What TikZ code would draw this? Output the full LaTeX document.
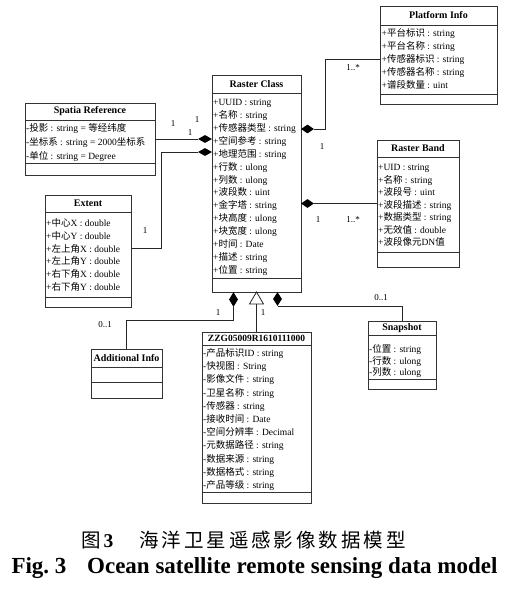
\documentclass[tikz,border=0pt]{standalone}
\usepackage{fontspec}
\setmainfont{Liberation Serif}
\newfontfamily\zhfont{Noto Sans CJK SC}[Scale=1.0]
\newfontfamily\zhcapfont{Noto Sans CJK SC}[LetterSpace=15]
\newcommand{\zh}[1]{{\zhfont #1}}
\usetikzlibrary{shapes.geometric}

\begin{document}
\begin{tikzpicture}[x=1pt, y=-1pt,
    classbox/.style={draw=black!80, line width=0.9pt, inner sep=0pt, fill=white},
    classtitle/.style={font=\fontsize{10}{12}\selectfont\bfseries, inner sep=0pt},
    attrtext/.style={font=\fontsize{9.5}{11}\selectfont, anchor=base west, inner sep=0pt},
    multlabel/.style={font=\fontsize{9}{11}\selectfont, inner sep=0pt},
    sepline/.style={draw=black!80, line width=0.8pt},
    assoc/.style={draw=black!85, line width=0.7pt},
    agg/.style={diamond, fill=black, inner sep=0pt}]
        \useasboundingbox (0,0) rectangle (505,591);
        % --- Platform Info ---
        \node[classbox, minimum width=117, minimum height=98] (platform) at (438.5,55) {};
        \node[classtitle] (platform-title) at (438.5,15.5) {Platform Info};
        \draw[sepline] (380,25) -- (497,25);
        \draw[sepline] (380,94) -- (497,94);
        \foreach \txt [count=\i from 0] in {+\zh{平台标识} : string, +\zh{平台名称} : string,
            +\zh{传感器标识} : string, +\zh{传感器名称} : string, +\zh{谱段数量} : uint}
            \node[attrtext] (platform-\i) at (381.5,36.5+13*\i) {\txt};
        % --- Raster Class ---
        \node[classbox, minimum width=89, minimum height=217] (raster) at (256.5,183.5) {};
        \node[classtitle] (raster-title) at (256.5,84) {Raster Class};
        \draw[sepline] (212,93) -- (301,93);
        \draw[sepline] (212,278) -- (301,278);
        \foreach \txt [count=\i from 0] in {+UUID : string, +\zh{名称} : string, +\zh{传感器类型} : string,
            +\zh{空间参考} : string, +\zh{地理范围} : string, +\zh{行数} : ulong, +\zh{列数} : ulong,
            +\zh{波段数} : uint, +\zh{金字塔} : string, +\zh{块高度} : ulong, +\zh{块宽度} : ulong,
            +\zh{时间} : Date, +\zh{描述} : string, +\zh{位置} : string}
            \node[attrtext] (raster-\i) at (213,105.5+12.92*\i) {\txt};
        % --- Spatia Reference ---
        \node[classbox, minimum width=130, minimum height=72] (spatial) at (90,139) {};
        \node[classtitle] (spatial-title) at (90,111.5) {Spatia Reference};
        \draw[sepline] (25,120) -- (155,120);
        \draw[sepline] (25,163) -- (155,163);
        \foreach \txt [count=\i from 0] in {-\zh{投影} : string = \zh{等经纬度},
            -\zh{坐标系} : string = 2000\zh{坐标系}, -\zh{单位} : string = Degree}
            \node[attrtext] (spatial-\i) at (26,131.5+14*\i) {\txt};
        % --- Extent ---
        \node[classbox, minimum width=86, minimum height=112] (extent) at (88,251) {};
        \node[classtitle] (extent-title) at (88,203.5) {Extent};
        \draw[sepline] (45,212) -- (131,212);
        \draw[sepline] (45,297) -- (131,297);
        \foreach \txt [count=\i from 0] in {+\zh{中心}X : double, +\zh{中心}Y : double,
            +\zh{左上角}X : double, +\zh{左上角}Y : double, +\zh{右下角}X : double, +\zh{右下角}Y : double}
            \node[attrtext] (extent-\i) at (46,226.5+12.8*\i) {\txt};
        % --- Raster Band ---
        \node[classbox, minimum width=82, minimum height=127] (band) at (418,203.5) {};
        \node[classtitle] (band-title) at (418,148.5) {Raster Band};
        \draw[sepline] (377,157) -- (459,157);
        \draw[sepline] (377,252) -- (459,252);
        \foreach \txt [count=\i from 0] in {+UID : string, +\zh{名称} : string, +\zh{波段号} : uint,
            +\zh{波段描述} : string, +\zh{数据类型} : string, +\zh{无效值} : double, +\zh{波段像元}DN\zh{值}}
            \node[attrtext] (band-\i) at (378,170.5+12.5*\i) {\txt};
        % --- ZZG05009R1610111000 ---
        \node[classbox, minimum width=109, minimum height=171] (zzg) at (256.5,417.5) {};
        \node[classtitle, font=\fontsize{9.5}{11}\selectfont\bfseries] (zzg-title) at (256.5,338.5) {ZZG05009R1610111000};
        \draw[sepline] (202,345) -- (311,345);
        \draw[sepline] (202,492) -- (311,492);
        \foreach \txt [count=\i from 0] in {-\zh{产品标识}ID : string, -\zh{快视图} : String,
            -\zh{影像文件} : string, -\zh{卫星名称} : string, -\zh{传感器} : string, -\zh{接收时间} : Date,
            -\zh{空间分辨率} : Decimal, -\zh{元数据路径} : string, -\zh{数据来源} : string,
            -\zh{数据格式} : string, -\zh{产品等级} : string}
            \node[attrtext] (zzg-\i) at (203,356.5+13.2*\i) {\txt};
        % --- Additional Info ---
        \node[classbox, minimum width=71, minimum height=49] (addinfo) at (126.5,373.5) {};
        \node[classtitle] (addinfo-title) at (126.5,358) {Additional Info};
        \draw[sepline] (91,367) -- (162,367);
        \draw[sepline] (91,382) -- (162,382);
        % --- Snapshot ---
        \node[classbox, minimum width=68, minimum height=68] (snapshot) at (402,355) {};
        \node[classtitle] (snapshot-title) at (402,328) {Snapshot};
        \draw[sepline] (368,335) -- (436,335);
        \draw[sepline] (368,379) -- (436,379);
        \foreach \txt [count=\i from 0] in {-\zh{位置} : string, -\zh{行数} : ulong, -\zh{列数} : ulong}
            \node[attrtext] (snapshot-\i) at (369,352.5+11.5*\i) {\txt};
        % --- aggregation diamonds, inheritance ---
        \node[agg, minimum width=14, minimum height=8] (agg-sp) at (205,139) {};
        \node[agg, minimum width=14, minimum height=8] (agg-ex) at (205,152) {};
        \node[agg, minimum width=13, minimum height=9] (agg-pl) at (307.5,129) {};
        \node[agg, minimum width=13, minimum height=9] (agg-rb) at (307.5,203.5) {};
        \node[agg, minimum width=9, minimum height=15] (agg-ad) at (233.5,299.5) {};
        \node[agg, minimum width=9, minimum height=14] (agg-sn) at (277.5,299) {};
        \draw[assoc, fill=white, line width=0.8pt] (249.5,304) -- (256.5,292) -- (263.5,304) -- cycle;
        \coordinate (inh) at (256.5,304);
        % --- connectors ---
        \draw[assoc] (agg-pl.east) -- ++(11.5,0) |- ([yshift=-4pt]platform.west);
        \draw[assoc] (agg-rb.east) -- (band.west);
        \draw[assoc] (spatial.east) -- (agg-sp.west);
        \draw[assoc] (agg-ex.west) -- ++(-36,0) |- ([yshift=3pt]extent.east);
        \draw[assoc] (agg-ad.south) -- ++(0,13) -| (addinfo.north);
        \draw[assoc] (inh) -- (zzg.north);
        \draw[assoc] (agg-sn.south) -| (snapshot.north);
        % --- multiplicities ---
        \node[multlabel] (m-pl-a) at (353,68) {1..*};
        \node[multlabel] (m-pl-b) at (322,147) {1};
        \node[multlabel] (m-rb-a) at (318,220) {1};
        \node[multlabel] (m-rb-b) at (353,220) {1..*};
        \node[multlabel] (m-sp-a) at (173,124) {1};
        \node[multlabel] (m-sp-b) at (197,120) {1};
        \node[multlabel] (m-sp-c) at (190,133) {1};
        \node[multlabel] (m-ex) at (145,231) {1};
        \node[multlabel] (m-ad-a) at (218,313) {1};
        \node[multlabel] (m-ad-b) at (105,325) {0..1};
        \node[multlabel] (m-zzg) at (263,313) {1};
        \node[multlabel] (m-sn) at (381,298) {0..1};
        % --- caption ---
        \node[anchor=base west, inner sep=0pt] (caption-zh) at (81,547)
            {\fontsize{19.5}{22}\selectfont{\zhcapfont 图}\textbf{3}\hspace{26pt}{\zhcapfont 海洋卫星遥感影像数据模型}};
        \node[anchor=base, inner sep=0pt] (caption-en) at (254.5,573)
            {\fontsize{23}{26}\selectfont\bfseries Fig.~3\hspace{0.9em}Ocean satellite remote sensing data model};
        % ---
\end{tikzpicture}
\end{document}
